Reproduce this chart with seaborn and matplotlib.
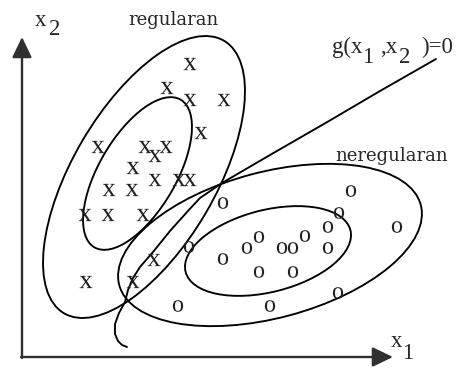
import matplotlib
matplotlib.use("Agg")
import matplotlib.pyplot as plt
import seaborn as sns
import pandas as pd
from matplotlib.patches import Ellipse

# ---------------- data (pixel-like coordinates, y grows downward) ----------------
x_class_x = [190, 167, 190, 224, 201, 98, 145, 166, 155, 133, 155, 179, 190,
             109, 132, 85, 108, 143, 154, 86, 133]
x_class_y = [64, 88, 100, 100, 133, 147, 147, 147, 156, 168, 180, 180, 180,
             190, 190, 215, 215, 215, 260, 282, 282]

o_class_x = [223, 351, 339, 328, 397, 305, 259, 247, 282, 293, 328, 189,
             223, 259, 293, 338, 178, 270]
o_class_y = [203, 191, 213, 227, 227, 236, 237, 248, 248, 248, 248, 247,
             259, 272, 272, 293, 306, 306]

g_curve_x = [436, 380, 329, 270, 222, 200, 187, 170, 153, 140, 133, 128, 125,
             119, 115, 115, 118, 122, 127]
g_curve_y = [59, 91, 121, 155, 183, 198, 212, 231, 252, 267, 278, 290, 302,
             313, 324, 334, 341, 345, 347]

ellipse_cx = [144, 137.5, 270, 268]
ellipse_cy = [177, 173.5, 245, 251]
ellipse_w = [316, 171, 312, 170]
ellipse_h = [143, 77, 146, 82]
ellipse_angle = [-59.6, -59.7, -14.9, -14.2]

class_labels = ["regularan", "neregularan"]

# ---------------- figure ----------------
sns.set_style("white")
plt.rcParams["mathtext.fontset"] = "custom"
plt.rcParams["mathtext.rm"] = "Liberation Serif"
plt.rcParams["font.family"] = ["Liberation Serif", "DejaVu Serif"]

fig = plt.figure(figsize=(4.58, 3.68), dpi=100)
ax = fig.add_axes([0, 0, 1, 1])

LW = 1.35
for cx, cy, w, h, a in zip(ellipse_cx, ellipse_cy, ellipse_w, ellipse_h, ellipse_angle):
    ax.add_patch(Ellipse((cx, cy), w, h, angle=a, fill=False,
                         edgecolor="black", linewidth=LW))

g_df = pd.DataFrame({"x1": g_curve_x, "x2": g_curve_y})
sns.lineplot(data=g_df, x="x1", y="x2", sort=False, estimator=None,
             color="black", linewidth=LW, ax=ax)

x_df = pd.DataFrame({"x1": x_class_x, "x2": x_class_y})
o_df = pd.DataFrame({"x1": o_class_x, "x2": o_class_y})
sns.scatterplot(data=x_df, x="x1", y="x2", marker=r"$\mathrm{x}$", s=85,
                color="#202020", edgecolor="none", linewidth=0, ax=ax, zorder=3)
sns.scatterplot(data=o_df, x="x1", y="x2", marker=r"$\mathrm{o}$", s=70,
                color="#202020", edgecolor="none", linewidth=0, ax=ax, zorder=3)

# axes arrows
arrow_kw = dict(arrowstyle="-|>,head_length=1.25,head_width=0.6",
                color="#303030", lw=1.7, shrinkA=0, shrinkB=0)
ax.annotate("", xy=(22, 37), xytext=(22, 358), arrowprops=arrow_kw)
ax.annotate("", xy=(393, 357), xytext=(21, 357), arrowprops=arrow_kw)

# labels
lab_fs = 16.5
ax.text(35, 26, "x", fontsize=lab_fs, ha="left", va="baseline")
ax.text(49, 35, "2", fontsize=lab_fs, ha="left", va="baseline")
ax.text(391, 347, "x", fontsize=lab_fs, ha="left", va="baseline")
ax.text(402, 359, "1", fontsize=lab_fs, ha="left", va="baseline")

ax.text(332, 53, "g(x", fontsize=lab_fs, ha="left", va="baseline")
ax.text(362, 63, "1", fontsize=lab_fs, ha="left", va="baseline")
ax.text(380, 53, ",x", fontsize=lab_fs, ha="left", va="baseline")
ax.text(399, 63, "2", fontsize=lab_fs, ha="left", va="baseline")
ax.text(421, 53, ")=0", fontsize=lab_fs, ha="left", va="baseline")

ax.text(173, 25, class_labels[0], fontsize=13, family="DejaVu Serif",
        ha="center", va="baseline")
ax.text(392, 161, class_labels[1], fontsize=13, family="DejaVu Serif",
        ha="center", va="baseline")

ax.set_xlim(0, 458)
ax.set_ylim(368, 0)
ax.axis("off")
fig.savefig("out.png", dpi=100, facecolor="white")
